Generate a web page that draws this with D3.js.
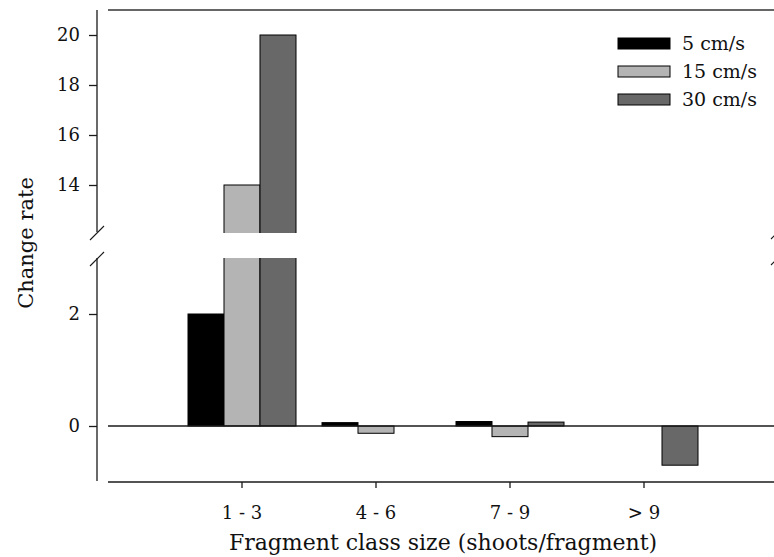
<!DOCTYPE html>
<html>
<head>
<meta charset="utf-8">
<script src="https://cdn.jsdelivr.net/npm/d3@7"></script>
<style>
  html, body { margin: 0; padding: 0; background: #fff; }
  svg { display: block; }
  text { font-family: "DejaVu Serif", "Liberation Serif", serif; fill: #111; }
</style>
</head>
<body>
<svg id="chart" width="774" height="557"></svg>
<script>
// Fragment size classes and flow speeds
const categories = ["1 - 3", "4 - 6", "7 - 9", "> 9"];
const series = ["5 cm/s", "15 cm/s", "30 cm/s"];
const colors = ["#000000", "#b4b4b4", "#686868"];

// Change rate per size class (null = no bar)
const rate5 = [2.0, 0.06, 0.08, null];
const rate15 = [14, -0.13, -0.19, null];
const rate30 = [20, null, 0.07, -0.70];
const values = [rate5, rate15, rate30];

// Axis ticks for the two segments of the broken y-axis
const upperTicks = [14, 16, 18, 20];
const lowerTicks = [0, 2];

const svg = d3.select("#chart");
const stroke = "#1a1a1a";

// Scales
const x0 = d3.scaleBand().domain(categories).range([188, 698]).paddingInner(0.194).paddingOuter(0);
const x1 = d3.scaleBand().domain(series).range([0, x0.bandwidth()]);
const yHigh = d3.scaleLinear().domain([12.08, 21]).range([233, 10]);
const yLow = d3.scaleLinear().domain([-1, 3]).range([482, 258]);

const plotLeft = 108, plotRight = 778, axisX = 97;

// Clip regions for the two panels
const defs = svg.append("defs");
defs.append("clipPath").attr("id", "clipHigh").append("rect")
  .attr("x", 0).attr("y", 0).attr("width", 774).attr("height", yHigh(yHigh.domain()[0]));
defs.append("clipPath").attr("id", "clipLow").append("rect")
  .attr("x", 0).attr("y", yLow(3)).attr("width", 774).attr("height", 557 - yLow(3));

const rows = [];
series.forEach((s, si) => categories.forEach((c, ci) => {
  const v = values[si][ci];
  if (v !== null) rows.push({ s, si, c, v });
}));

// Upper panel bars
svg.append("g").attr("clip-path", "url(#clipHigh)")
  .selectAll("rect").data(rows.filter(d => d.v > yHigh.domain()[0])).join("rect")
  .attr("x", d => x0(d.c) + x1(d.s))
  .attr("width", x1.bandwidth())
  .attr("y", d => yHigh(d.v))
  .attr("height", d => yHigh(yHigh.domain()[0]) - yHigh(d.v) + 6)
  .attr("fill", d => colors[d.si])
  .attr("stroke", "#000").attr("stroke-width", 1);

// Lower panel bars
svg.append("g").attr("clip-path", "url(#clipLow)")
  .selectAll("rect").data(rows).join("rect")
  .attr("x", d => x0(d.c) + x1(d.s))
  .attr("width", x1.bandwidth())
  .attr("y", d => yLow(Math.max(d.v, 0)))
  .attr("height", d => Math.abs(yLow(d.v) - yLow(0)))
  .attr("fill", d => colors[d.si])
  .attr("stroke", "#000").attr("stroke-width", 1);

// Zero line, top frame line and x-axis baseline
const lineAttrs = sel => sel.attr("stroke", stroke).attr("stroke-width", 1.3);
svg.append("line").call(lineAttrs)
  .attr("x1", plotLeft).attr("x2", plotRight).attr("y1", yLow(0)).attr("y2", yLow(0));
svg.append("line").attr("stroke", "#333").attr("stroke-width", 1.6)
  .attr("x1", plotLeft).attr("x2", plotRight).attr("y1", yHigh(21)).attr("y2", yHigh(21));
svg.append("line").call(lineAttrs)
  .attr("x1", plotLeft).attr("x2", plotRight).attr("y1", yLow(-1)).attr("y2", yLow(-1));

// X axis ticks and labels
const xAxis = svg.append("g").attr("transform", `translate(0,${yLow(-1)})`)
  .call(d3.axisBottom(x0).tickSize(6).tickPadding(18).tickSizeOuter(0));
xAxis.select(".domain").remove();
xAxis.selectAll(".tick line").attr("stroke", stroke).attr("stroke-width", 1.3);
xAxis.selectAll(".tick text").attr("font-size", 18).attr("font-family", "DejaVu Serif").attr("fill", "#111");

// Y axis segments
const intFmt = d3.format("d");
const yAxisHigh = svg.append("g").attr("transform", `translate(${axisX},0)`)
  .call(d3.axisLeft(yHigh).tickValues(upperTicks).tickFormat(intFmt).tickSize(8).tickPadding(9));
const yAxisLow = svg.append("g").attr("transform", `translate(${axisX},0)`)
  .call(d3.axisLeft(yLow).tickValues(lowerTicks).tickFormat(intFmt).tickSize(8).tickPadding(9));
[yAxisHigh, yAxisLow].forEach(g => {
  g.select(".domain").remove();
  g.selectAll(".tick line").attr("stroke", stroke).attr("stroke-width", 1.3);
  g.selectAll(".tick text").attr("font-size", 18).attr("font-family", "DejaVu Serif").attr("fill", "#111");
});
svg.append("line").call(lineAttrs)
  .attr("x1", axisX).attr("x2", axisX).attr("y1", yHigh(21)).attr("y2", 232);
svg.append("line").call(lineAttrs)
  .attr("x1", axisX).attr("x2", axisX).attr("y1", 258).attr("y2", yLow(-1) - 1);

// Axis break marks (left side and right edge)
const breaks = [[90, 240], [90, 266], [771, 239], [771, 265]];
svg.append("g").selectAll("line").data(breaks).join("line")
  .attr("x1", d => d[0]).attr("y1", d => d[1])
  .attr("x2", d => d[0] + 14).attr("y2", d => d[1] - 14)
  .attr("stroke", stroke).attr("stroke-width", 1.1);

// Axis titles
svg.append("text")
  .attr("x", 443).attr("y", 550)
  .attr("text-anchor", "middle").attr("font-size", 22)
  .text("Fragment class size (shoots/fragment)");
svg.append("text")
  .attr("transform", "translate(33,243) rotate(-90)")
  .attr("text-anchor", "middle").attr("font-size", 21)
  .text("Change rate");

// Legend
const legend = svg.append("g").selectAll("g").data(series).join("g")
  .attr("transform", (d, i) => `translate(618,${38 + i * 28})`);
legend.append("rect")
  .attr("width", 52).attr("height", 11)
  .attr("fill", (d, i) => colors[i])
  .attr("stroke", "#000").attr("stroke-width", 1);
legend.append("text")
  .attr("x", 64).attr("y", 12)
  .attr("font-size", 19)
  .text(d => d);
</script>
</body>
</html>
